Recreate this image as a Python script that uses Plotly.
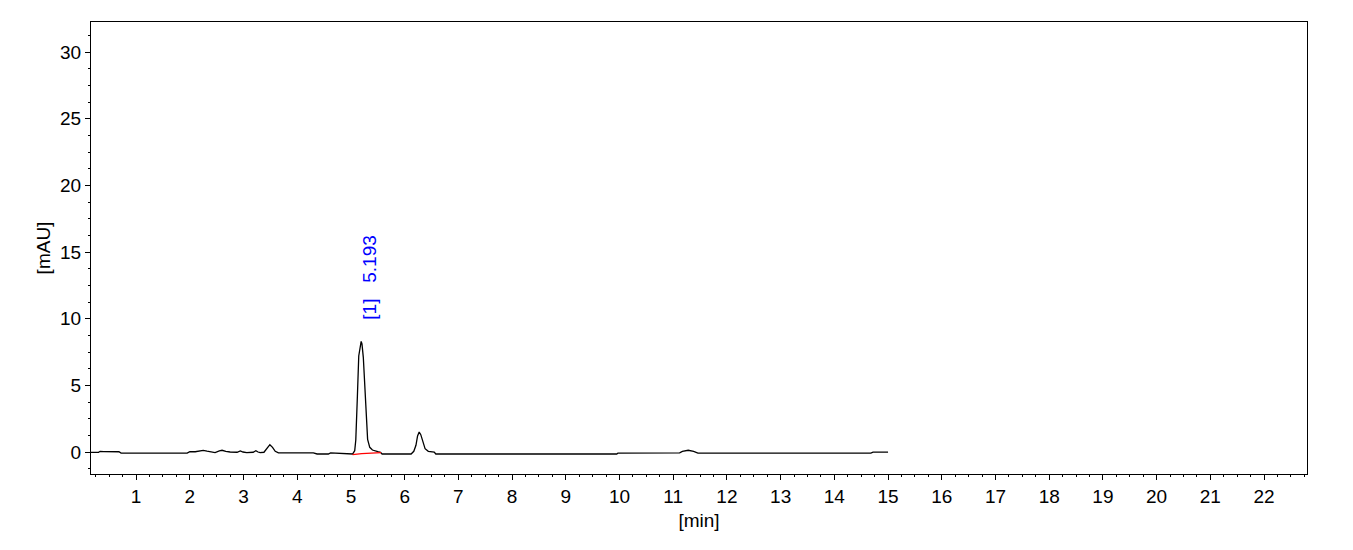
import plotly.graph_objects as go

# chromatogram trace
time_min = [0.15, 0.30, 0.33, 0.40, 0.68, 0.72, 1.95, 2.00, 2.10, 2.18,
            2.25, 2.32, 2.40, 2.47, 2.55, 2.60, 2.67, 2.75, 2.88, 2.94,
            2.99, 3.06, 3.18, 3.23, 3.27, 3.31, 3.38, 3.44, 3.49, 3.54,
            3.59, 3.65, 4.30, 4.37, 4.58, 4.62, 4.85, 4.90, 5.03, 5.07,
            5.09, 5.12, 5.145, 5.19, 5.205, 5.23, 5.27, 5.31, 5.35, 5.40,
            5.50, 5.55, 5.58, 6.12, 6.17, 6.21, 6.24, 6.27, 6.30, 6.34,
            6.38, 6.44, 6.55, 6.58, 9.95, 9.97, 11.12, 11.17, 11.28, 11.38,
            11.46, 14.68, 14.72, 15.00]
signal_mau = [-0.03, -0.03, 0.05, 0.03, 0.02, -0.08, -0.08, 0.03, 0.02, 0.05,
              0.12, 0.06, 0.02, -0.05, 0.08, 0.13, 0.05, 0.0, -0.02, 0.08,
              0.0, -0.05, -0.02, 0.10, 0.0, -0.05, -0.02, 0.30, 0.55, 0.35,
              0.05, -0.07, -0.07, -0.15, -0.15, -0.07, -0.10, -0.15, -0.15, 0.10,
              0.9, 4.2, 7.2, 8.3, 8.1, 7.1, 4.1, 0.95, 0.35, 0.15,
              0.03, -0.02, -0.15, -0.15, 0.05, 0.5, 1.2, 1.5, 1.3, 0.7,
              0.25, 0.05, 0.0, -0.15, -0.15, -0.08, -0.06, 0.05, 0.13, 0.05,
              -0.08, -0.08, -0.01, -0.01]

# integration baseline of peak 1
base_time = [5.03, 5.20, 5.56]
base_signal = [-0.2, -0.12, -0.05]

peak_rt = 5.193
peak_label = "[1]   5.193"

fig = go.Figure()
fig.add_trace(go.Scatter(x=time_min, y=signal_mau, mode="lines",
                         line=dict(color="black", width=1.3), showlegend=False))
fig.add_trace(go.Scatter(x=base_time, y=base_signal, mode="lines",
                         line=dict(color="red", width=1.3), showlegend=False))

fig.add_annotation(x=peak_rt, y=9.76, text=peak_label, textangle=-90,
                   showarrow=False, xanchor="center", yanchor="bottom", xshift=8,
                   font=dict(color="#0000ff", size=19, family="Liberation Sans, Arial"))

axis_font = dict(family="Liberation Sans, Arial", size=19, color="black")

fig.update_xaxes(range=[0.16, 22.8], tickmode="linear", tick0=1, dtick=1,
                 ticks="outside", ticklen=5, tickcolor="black",
                 minor=dict(dtick=0.25, ticks="outside", ticklen=2, tickcolor="black"),
                 showline=True, linecolor="black", linewidth=1, mirror=True,
                 showgrid=False, zeroline=False, tickfont=axis_font,
                 title=dict(text="[min]", font=axis_font, standoff=7))
fig.update_yaxes(range=[-1.65, 32.25], tickmode="linear", tick0=0, dtick=5,
                 ticks="outside", ticklen=5, tickcolor="black",
                 minor=dict(dtick=1.25, ticks="outside", ticklen=2, tickcolor="black"),
                 showline=True, linecolor="black", linewidth=1, mirror=True,
                 showgrid=False, zeroline=False, tickfont=axis_font,
                 title=dict(text="[mAU]", font=axis_font, standoff=4))

# the page keeps an 8px body margin, so the plot box is shifted up/left by that
fig.update_layout(width=1353, height=550, plot_bgcolor="white", paper_bgcolor="white",
                  margin=dict(l=83, r=54, t=14, b=84))

fig.write_html("out.html")
